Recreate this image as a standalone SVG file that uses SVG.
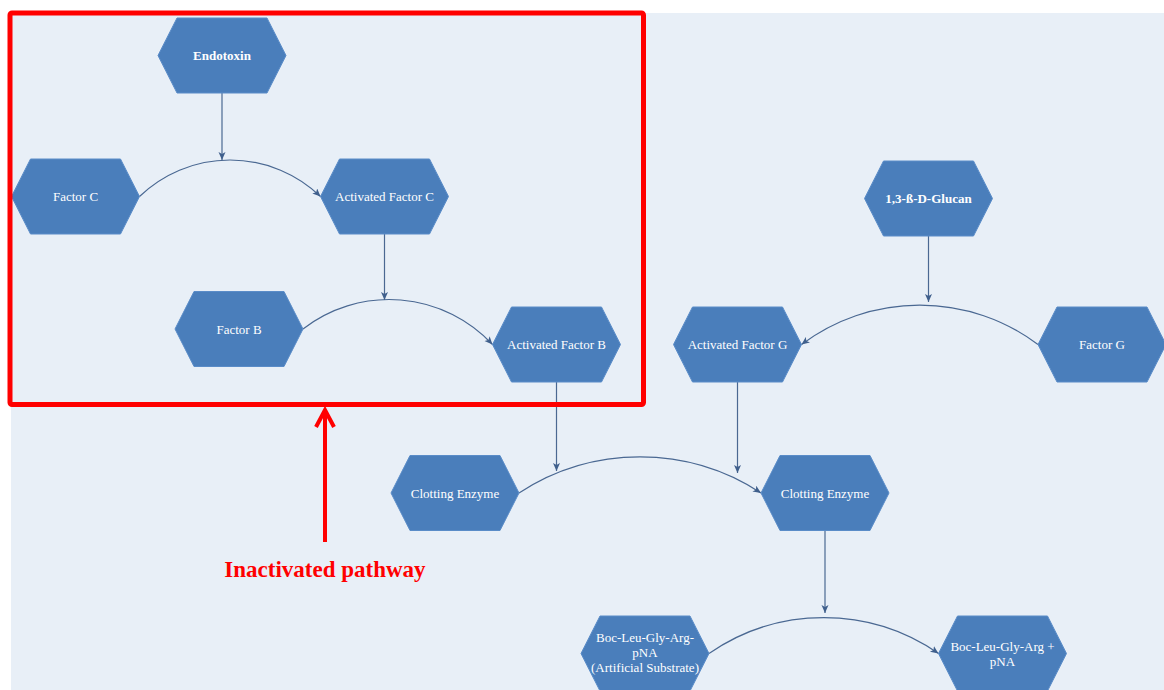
<svg xmlns="http://www.w3.org/2000/svg" width="1164" height="690" viewBox="0 0 1164 690">
<defs>
<style>
.hex{fill:#4a7ebb;stroke:#5a8cc8;stroke-width:1}
.lbl{font-family:"Liberation Serif","Times New Roman",serif;font-size:13px;fill:#ffffff;text-anchor:middle}
.b{font-weight:bold}
.con{fill:none;stroke:#4a6892;stroke-width:1.2}
</style>
<marker id="ah" markerUnits="userSpaceOnUse" markerWidth="10" markerHeight="8" refX="8" refY="3.5" orient="auto">
<path d="M0,0 L8,3.5 L0,7 L2,3.5 z" fill="#3f5f8c"/>
</marker>
<polygon id="hx" points="-64,0 -45,-37.5 45,-37.5 64,0 45,37.5 -45,37.5"/>
</defs>
<rect x="0" y="0" width="1164" height="690" fill="#ffffff"/>
<rect x="11" y="13" width="1153" height="677" fill="#e8eff7"/>

<g id="connectors">
<path class="con" marker-end="url(#ah)" d="M139.5,196.5 A130.4,130.4 0 0 1 320.5,196.5"/>
<path class="con" marker-end="url(#ah)" d="M303,329 A141,141 0 0 1 492.5,344.5"/>
<path class="con" marker-end="url(#ah)" d="M1038,344.5 A197,197 0 0 0 801.5,344.5"/>
<path class="con" marker-end="url(#ah)" d="M519,493 A221,221 0 0 1 761,493"/>
<path class="con" marker-end="url(#ah)" d="M709,653.5 A201.7,201.7 0 0 1 938.5,653.5"/>
<path class="con" marker-end="url(#ah)" d="M222,93 V160"/>
<path class="con" marker-end="url(#ah)" d="M384.5,234 V300"/>
<path class="con" marker-end="url(#ah)" d="M556.5,382 V471"/>
<path class="con" marker-end="url(#ah)" d="M737.5,382 V473"/>
<path class="con" marker-end="url(#ah)" d="M928.5,236 V302"/>
<path class="con" marker-end="url(#ah)" d="M825,530.5 V613"/>
</g>

<g id="endotoxin"><use href="#hx" class="hex" x="222" y="55.5"/><text class="lbl b" x="222" y="60">Endotoxin</text></g>
<g id="factor-c"><use href="#hx" class="hex" x="75.5" y="196.5"/><text class="lbl" x="75.5" y="201">Factor C</text></g>
<g id="activated-factor-c"><use href="#hx" class="hex" x="384.5" y="196.5"/><text class="lbl" x="384.5" y="201">Activated Factor C</text></g>
<g id="factor-b"><use href="#hx" class="hex" x="239" y="329"/><text class="lbl" x="239" y="333.5">Factor B</text></g>
<g id="activated-factor-b"><use href="#hx" class="hex" x="556.5" y="344.5"/><text class="lbl" x="556.5" y="349">Activated Factor B</text></g>
<g id="glucan"><use href="#hx" class="hex" x="928.5" y="198.5"/><text class="lbl b" x="928.5" y="203">1,3-ß-D-Glucan</text></g>
<g id="activated-factor-g"><use href="#hx" class="hex" x="737.5" y="344.5"/><text class="lbl" x="737.5" y="349">Activated Factor G</text></g>
<g id="factor-g"><use href="#hx" class="hex" x="1102" y="344.5"/><text class="lbl" x="1102" y="349">Factor G</text></g>
<g id="clotting-enzyme-1"><use href="#hx" class="hex" x="455" y="493"/><text class="lbl" x="455" y="497.5">Clotting Enzyme</text></g>
<g id="clotting-enzyme-2"><use href="#hx" class="hex" x="825" y="493"/><text class="lbl" x="825" y="497.5">Clotting Enzyme</text></g>
<g id="substrate"><use href="#hx" class="hex" x="645" y="653.5"/><text class="lbl" x="645" y="642">Boc-Leu-Gly-Arg-</text><text class="lbl" x="645" y="657">pNA</text><text class="lbl" x="645" y="672">(Artificial Substrate)</text></g>
<g id="product"><use href="#hx" class="hex" x="1002.5" y="653.5"/><text class="lbl" x="1002.5" y="651">Boc-Leu-Gly-Arg +</text><text class="lbl" x="1002.5" y="666">pNA</text></g>

<g id="inactivated-annotation">
<rect x="10" y="13" width="633.5" height="391.5" rx="2" fill="none" stroke="#ff0000" stroke-width="5"/>
<path d="M325,542 V410" stroke="#ff0000" stroke-width="4" fill="none"/>
<polyline points="316,427 325,410 334,427" stroke="#ff0000" stroke-width="4" fill="none"/>
<text x="325" y="577" font-family="'Liberation Serif','Times New Roman',serif" font-size="23" font-weight="bold" fill="#ff0000" text-anchor="middle">Inactivated pathway</text>
</g>
</svg>
